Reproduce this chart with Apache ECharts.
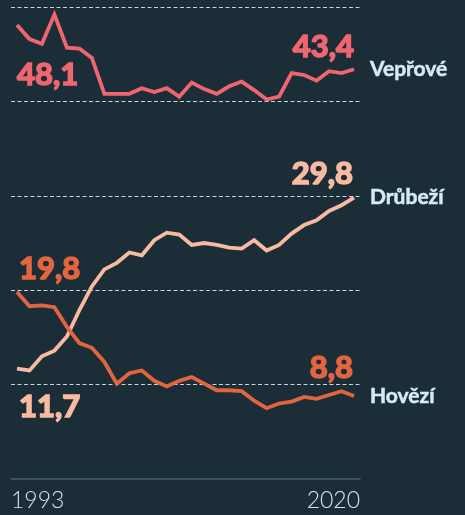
<!DOCTYPE html>
<html>
<head>
<meta charset="utf-8">
<script src="https://cdn.jsdelivr.net/npm/echarts@6/dist/echarts.min.js"></script>
<style>
  html, body { margin: 0; padding: 0; background: #1b2e38; }
  #chart { width: 465px; height: 515px; }
</style>
</head>
<body>
<div id="chart"></div>
<script>
// Meat consumption per capita (kg), 1993–2020
const years = [1993, 1994, 1995, 1996, 1997, 1998, 1999, 2000, 2001, 2002,
  2003, 2004, 2005, 2006, 2007, 2008, 2009, 2010, 2011, 2012,
  2013, 2014, 2015, 2016, 2017, 2018, 2019, 2020];

const veprove = [48.1, 46.6, 46.1, 49.2, 45.7, 45.6, 44.6, 40.8, 40.8, 40.8,
  41.4, 41.0, 41.4, 40.5, 42.0, 41.3, 40.8, 41.6, 42.1, 41.2,
  40.2, 40.5, 43.0, 42.8, 42.2, 43.2, 43.0, 43.4];

const drubezi = [11.7, 11.5, 13.0, 13.6, 15.1, 17.9, 20.4, 22.2, 22.9, 24.0,
  23.7, 25.3, 26.1, 25.9, 24.8, 25.0, 24.8, 24.5, 24.4, 25.3,
  24.2, 24.8, 26.0, 26.9, 27.4, 28.4, 29.0, 29.8];

const hovezi = [19.8, 18.3, 18.4, 18.2, 16.1, 14.4, 13.9, 12.4, 10.1, 11.2,
  11.5, 10.4, 9.8, 10.4, 10.8, 10.1, 9.4, 9.4, 9.3, 8.3,
  7.5, 8.0, 8.2, 8.7, 8.5, 8.9, 9.3, 8.8];

const yTicks = [0, 10, 20, 30, 40, 50];
const yearLabels = ['1993', '2020'];

const fmt = v => v.toFixed(1).replace('.', ',');
const FONT = 'Lato, "Open Sans", sans-serif';

// first / last point value labels: [offset for first, offset for last]
function buildData(values, color, firstOffset, lastOffset) {
  const last = values.length - 1;
  return values.map((v, i) => {
    if (i === 0 || i === last) {
      return {
        value: [years[i], v],
        label: {
          show: true,
          position: 'inside',
          align: i === 0 ? 'left' : 'right',
          verticalAlign: 'middle',
          offset: i === 0 ? firstOffset : lastOffset,
          formatter: p => fmt(p.value[1]),
          color: color,
          textBorderColor: color,
          textBorderWidth: 1.6,
          fontFamily: FONT,
          fontWeight: 'bold',
          fontSize: 31
        }
      };
    }
    return [years[i], v];
  });
}

function lineSeries(name, values, color, firstOffset, lastOffset) {
  return {
    name: name,
    type: 'line',
    data: buildData(values, color, firstOffset, lastOffset),
    symbol: 'circle',
    symbolSize: 0,
    showSymbol: true,
    lineStyle: { color: color, width: 3.8, join: 'miter' },
    itemStyle: { color: color },
    emphasis: { disabled: true },
    animation: false,
    label: { show: false },
    endLabel: {
      show: true,
      formatter: '{a}',
      distance: 16,
      color: '#d3ebf6',
      textBorderColor: '#d3ebf6',
      textBorderWidth: 0.5,
      fontFamily: FONT,
      fontWeight: 'bold',
      fontSize: 21
    }
  };
}

const chart = echarts.init(document.getElementById('chart'), null, { renderer: 'canvas' });

chart.setOption({
  backgroundColor: '#1b2e38',
  animation: false,
  grid: { left: 11, right: 105, top: 7, bottom: 36 },
  xAxis: {
    type: 'value',
    min: years[0] - 0.48,
    max: years[years.length - 1] + 0.48,
    axisLine: { show: true, lineStyle: { color: '#4b5f69', width: 1.5 } },
    axisTick: { show: false },
    splitLine: { show: false },
    axisLabel: {
      customValues: [years[0] - 0.48, years[years.length - 1] + 0.48],
      formatter: v => (v < 2000 ? yearLabels[0] : yearLabels[1]),
      alignMinLabel: 'left',
      alignMaxLabel: 'right',
      color: '#d3e6ee',
      fontFamily: FONT,
      fontWeight: 300,
      fontSize: 23,
      margin: 10
    }
  },
  yAxis: {
    type: 'value',
    min: yTicks[0],
    max: yTicks[yTicks.length - 1],
    interval: 10,
    axisLine: { show: false },
    axisTick: { show: false },
    axisLabel: { show: false },
    splitLine: {
      show: true,
      showMinLine: false,
      lineStyle: { color: '#c3d8e0', type: [4, 2.5], width: 1 }
    }
  },
  series: [
    lineSeries('Vepřové', veprove, '#ef6670', [0, 50], [0, -22]),
    lineSeries('Drůbeží', drubezi, '#f8baa0', [2, 38], [-1, -24]),
    lineSeries('Hovězí', hovezi, '#e3653f', [2, -23], [-1, -28])
  ]
});
</script>
</body>
</html>
